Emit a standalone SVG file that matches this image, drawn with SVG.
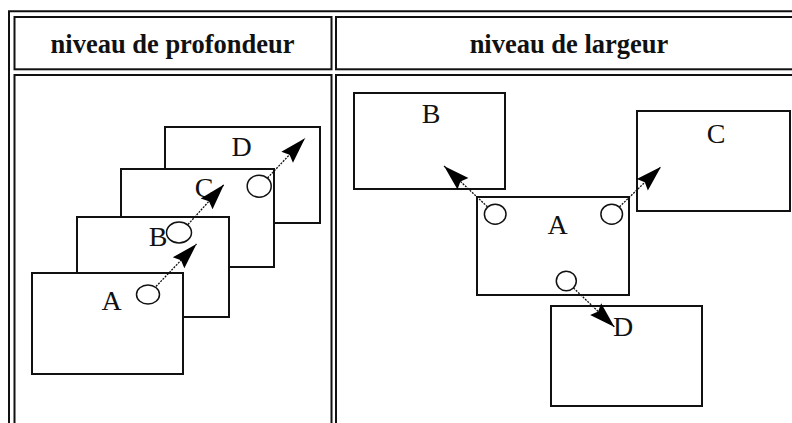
<svg xmlns="http://www.w3.org/2000/svg" width="792" height="423" viewBox="0 0 792 423">
<style>
.cell{fill:none;stroke:#111;stroke-width:2}
.hdr{font-family:"Liberation Serif","Times New Roman",serif;font-weight:bold;font-size:26.5px;text-anchor:middle;fill:#111}
.box{fill:#fff;stroke:#111;stroke-width:2}
.lbl{font-family:"Liberation Serif","Times New Roman",serif;font-size:28px;text-anchor:middle;fill:#111}
.port{fill:#fff;stroke:#111;stroke-width:1.5}
.conn{fill:none;stroke:#111;stroke-width:1.3;stroke-dasharray:2 1.2;marker-end:url(#ah)}
</style>
<defs>
<marker id="ah" markerUnits="userSpaceOnUse" markerWidth="30" markerHeight="20" viewBox="-28 -10 30 20" refX="0" refY="0" orient="auto" overflow="visible">
<path d="M0,0 L-26,-8 L-22.5,0 L-26,8 Z" fill="#000"/>
</marker>
</defs>
<rect width="792" height="423" fill="#fff"/>
<g id="table">
<path class="cell" d="M9,440 V11.3 H820"/>
<rect class="cell" x="14.5" y="17" width="317" height="52.3"/>
<rect class="cell" x="336" y="17" width="470" height="52.3"/>
<rect class="cell" x="14.5" y="75" width="317" height="400"/>
<rect class="cell" x="336" y="75" width="470" height="400"/>
<text class="hdr" x="172.5" y="53">niveau de profondeur</text>
<text class="hdr" x="569" y="53">niveau de largeur</text>
</g>
<g id="depth-D"><rect class="box" x="165" y="127" width="155" height="96"/><text class="lbl" x="241.5" y="156">D</text></g>
<g id="depth-C"><rect class="box" x="121" y="169" width="153" height="98"/><text class="lbl" x="204" y="197">C</text><ellipse class="port" cx="259.2" cy="186.2" rx="12" ry="11"/></g>
<g id="depth-B"><rect class="box" x="77" y="217" width="152" height="100"/><text class="lbl" x="158" y="246">B</text><ellipse class="port" cx="179" cy="232.5" rx="12.5" ry="10.5"/></g>
<g id="depth-A"><rect class="box" x="32" y="273" width="151" height="101"/><text class="lbl" x="111.5" y="310">A</text><ellipse class="port" cx="148" cy="294.5" rx="11.5" ry="9.5"/></g>
<g id="width-B"><rect class="box" x="354" y="93" width="151" height="96"/><text class="lbl" x="431" y="123">B</text></g>
<g id="width-C"><rect class="box" x="637" y="111" width="153" height="100"/><text class="lbl" x="716" y="143">C</text></g>
<g id="width-D"><rect class="box" x="551" y="306" width="151" height="100"/><text class="lbl" x="623" y="336">D</text></g>
<g id="width-A"><rect class="box" x="477" y="197" width="152" height="98"/><text class="lbl" x="557.5" y="234">A</text>
<ellipse class="port" cx="495.2" cy="214.2" rx="10.8" ry="10"/>
<ellipse class="port" cx="611.7" cy="214.2" rx="10.8" ry="10"/>
<ellipse class="port" cx="566.3" cy="281" rx="10" ry="9.8"/></g>
<g id="connectors">
<line class="conn" x1="156" y1="286.5" x2="196.5" y2="244"/>
<line class="conn" x1="188" y1="224.5" x2="224" y2="184.5"/>
<line class="conn" x1="267.5" y1="178" x2="305" y2="138.3"/>
<line class="conn" x1="487.5" y1="206.8" x2="444" y2="166"/>
<line class="conn" x1="619.5" y1="206.8" x2="661" y2="166.7"/>
<line class="conn" x1="573.5" y1="288" x2="614.5" y2="327"/>
</g>
</svg>
